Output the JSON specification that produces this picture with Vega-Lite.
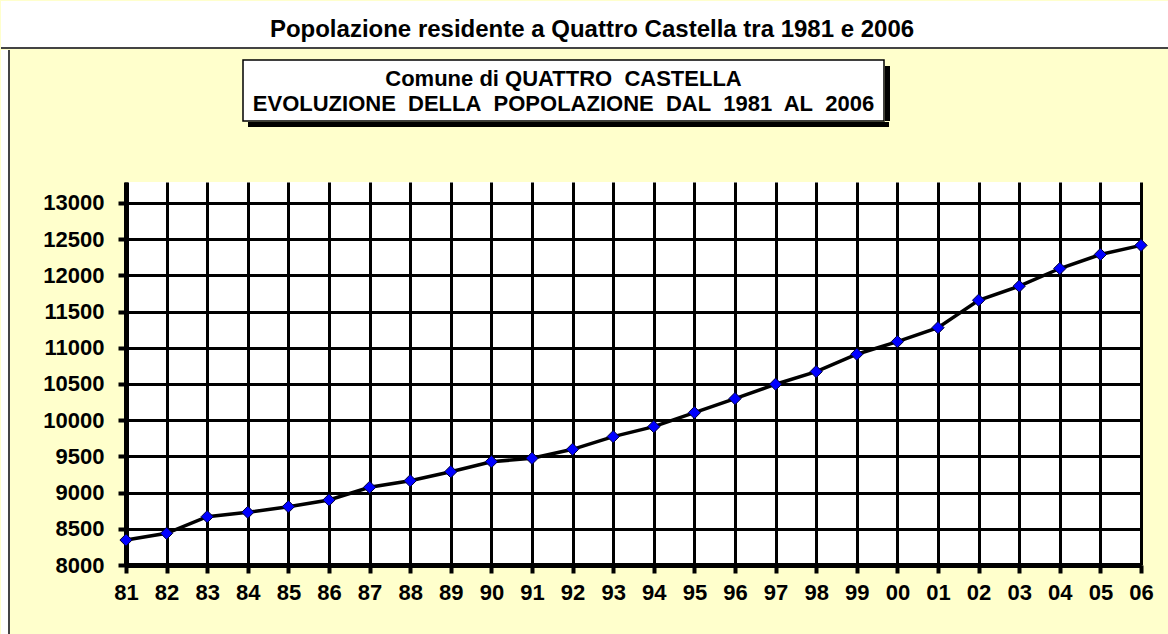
{
  "$schema": "https://vega.github.io/schema/vega-lite/v6.json",
  "background": "#FFFFCC",
  "padding": 0,
  "spacing": 0,
  "config": {"view": {"stroke": null}, "concat": {"spacing": 0}, "font": "Liberation Sans"},
  "vconcat": [
    {
      "width": 1168, "height": 47,
      "view": {"fill": "white", "stroke": "#444444", "strokeWidth": 2, "strokeDash": [0, 1215, 1168, 47]},
      "data": {"values": [{"t": "Popolazione residente a Quattro Castella tra 1981 e 2006"}]},
      "mark": {"type": "text", "font": "Liberation Sans", "fontWeight": "bold", "fontSize": 24, "color": "black", "baseline": "alphabetic", "dx": 7, "dy": 12.5},
      "encoding": {"text": {"field": "t", "type": "nominal"}}
    },
    {
      "spacing": 0,
      "hconcat": [
        {
          "width": 8, "height": 587,
          "view": {"fill": "white", "stroke": "#444444", "strokeWidth": 2, "strokeDash": [0, 8, 587, 595]},
          "data": {"values": []},
          "mark": "point"
        },
        {
          "spacing": 0,
          "vconcat": [
            {"width": 1, "height": 9, "data": {"values": []}, "mark": "point"},
            {
              "spacing": 0,
              "hconcat": [
                {"width": 232, "height": 1, "data": {"values": []}, "mark": "point"},
                {
                  "spacing": 0,
                  "vconcat": [
                    {
                      "spacing": 0,
                      "hconcat": [
                        {
                          "width": 641, "height": 61,
                          "view": {"fill": "white", "stroke": "black", "strokeWidth": 1.5},
                          "data": {"values": [{"t": "Comune di QUATTRO\u00a0 CASTELLA\nEVOLUZIONE\u00a0 DELLA\u00a0 POPOLAZIONE\u00a0 DAL\u00a0 1981\u00a0 AL\u00a0 2006"}]},
                          "mark": {"type": "text", "lineBreak": "\n", "lineHeight": 25, "font": "Liberation Sans", "fontWeight": "bold", "fontSize": 22, "color": "black", "baseline": "alphabetic", "dy": -4.5},
                          "encoding": {"text": {"field": "t", "type": "nominal"}}
                        },
                        {
                          "spacing": 0,
                          "vconcat": [
                            {"width": 5, "height": 6, "data": {"values": []}, "mark": "point"},
                            {"width": 5, "height": 55, "view": {"fill": "black"}, "data": {"values": []}, "mark": "point"}
                          ]
                        }
                      ]
                    },
                    {
                      "spacing": 0,
                      "hconcat": [
                        {"width": 5, "height": 5, "data": {"values": []}, "mark": "point"},
                        {"width": 641, "height": 5, "view": {"fill": "black"}, "data": {"values": []}, "mark": "point"}
                      ]
                    }
                  ]
                }
              ]
            },
            {"width": 1, "height": 55, "data": {"values": []}, "mark": "point"},
            {
              "spacing": 0,
              "hconcat": [
                {"width": 32, "height": 1, "data": {"values": []}, "mark": "point"},
                {
                  "width": 1015, "height": 383,
                  "view": {"fill": "white", "stroke": null},
                  "data": {"values": [
                    {"anno": "81", "popolazione": 8345},
                    {"anno": "82", "popolazione": 8438},
                    {"anno": "83", "popolazione": 8667},
                    {"anno": "84", "popolazione": 8728},
                    {"anno": "85", "popolazione": 8806},
                    {"anno": "86", "popolazione": 8898},
                    {"anno": "87", "popolazione": 9073},
                    {"anno": "88", "popolazione": 9164},
                    {"anno": "89", "popolazione": 9289},
                    {"anno": "90", "popolazione": 9427},
                    {"anno": "91", "popolazione": 9474},
                    {"anno": "92", "popolazione": 9598},
                    {"anno": "93", "popolazione": 9773},
                    {"anno": "94", "popolazione": 9911},
                    {"anno": "95", "popolazione": 10104},
                    {"anno": "96", "popolazione": 10298},
                    {"anno": "97", "popolazione": 10497},
                    {"anno": "98", "popolazione": 10671},
                    {"anno": "99", "popolazione": 10911},
                    {"anno": "00", "popolazione": 11085},
                    {"anno": "01", "popolazione": 11278},
                    {"anno": "02", "popolazione": 11657},
                    {"anno": "03", "popolazione": 11851},
                    {"anno": "04", "popolazione": 12095},
                    {"anno": "05", "popolazione": 12289},
                    {"anno": "06", "popolazione": 12415}
                  ]},
                  "encoding": {
                    "x": {
                      "field": "anno", "type": "ordinal",
                      "scale": {"type": "point", "padding": 0, "domain": ["81","82","83","84","85","86","87","88","89","90","91","92","93","94","95","96","97","98","99","00","01","02","03","04","05","06"]},
                      "axis": {
                        "title": null, "labelAngle": 0,
                        "domainColor": "black", "domainWidth": 5,
                        "tickColor": "black", "tickWidth": 4, "tickSize": 8,
                        "grid": true, "gridColor": "black", "gridWidth": 3, "gridOpacity": 1,
                        "labelFont": "Liberation Sans", "labelFontWeight": "bold", "labelFontSize": 22, "labelColor": "black", "labelPadding": 9
                      }
                    },
                    "y": {
                      "field": "popolazione", "type": "quantitative",
                      "scale": {"domain": [8000, 13290], "nice": false, "zero": false},
                      "axis": {
                        "title": null,
                        "values": [8000, 8500, 9000, 9500, 10000, 10500, 11000, 11500, 12000, 12500, 13000],
                        "format": "d",
                        "domainColor": "black", "domainWidth": 5,
                        "tickColor": "black", "tickWidth": 4, "tickSize": 8,
                        "grid": true, "gridColor": "black", "gridWidth": 3, "gridOpacity": 1,
                        "labelFont": "Liberation Sans", "labelFontWeight": "bold", "labelFontSize": 22, "labelColor": "black", "labelPadding": 14
                      }
                    }
                  },
                  "layer": [
                    {"mark": {"type": "line", "color": "black", "strokeWidth": 3.5}},
                    {"mark": {"type": "point", "shape": "diamond", "filled": true, "fill": "#0000FF", "stroke": "#000033", "strokeWidth": 1, "size": 150, "opacity": 1}}
                  ]
                }
              ]
            }
          ]
        }
      ]
    }
  ]
}
